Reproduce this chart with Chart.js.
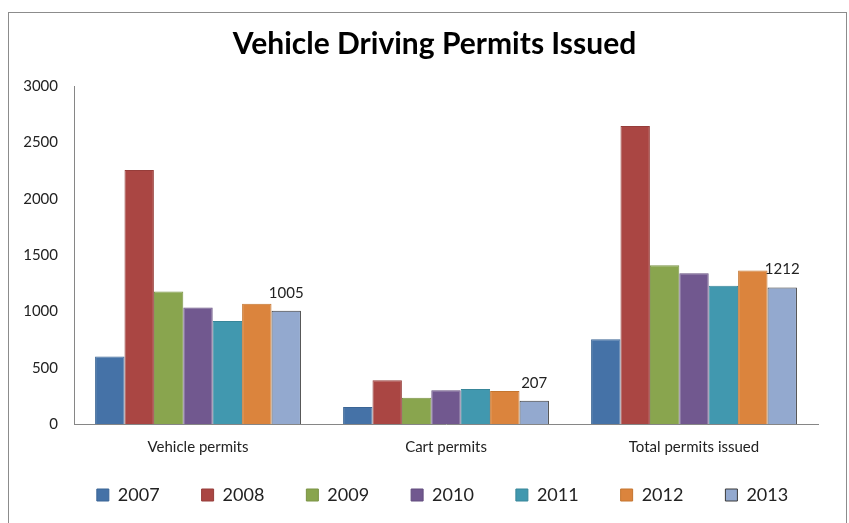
<!DOCTYPE html>
<html>
<head>
<meta charset="utf-8">
<script src="https://cdn.jsdelivr.net/npm/chart.js@4"></script>
<style>
  html, body { margin: 0; padding: 0; background: #fff; }
  #wrap { position: relative; width: 849px; height: 523px; overflow: hidden; }
  #frame { position: absolute; left: 8px; top: 12px; width: 839px; height: 530px; border: 1px solid #8c8c8c; box-sizing: border-box; }
  canvas { position: absolute; left: 0; top: 0; }
</style>
</head>
<body>
<div id="wrap">
  <div id="frame"></div>
  <canvas id="chart" width="849" height="523"></canvas>
</div>
<script>
// categories and series
const categories = ['Vehicle permits', 'Cart permits', 'Total permits issued'];
const years = ['2007', '2008', '2009', '2010', '2011', '2012', '2013'];
const v2007 = [600, 150, 752];
const v2008 = [2255, 388, 2645];
const v2009 = [1175, 232, 1410];
const v2010 = [1035, 300, 1338];
const v2011 = [915, 310, 1228];
const v2012 = [1068, 293, 1362];
const v2013 = [1005, 207, 1212];
const yTicks = [0, 500, 1000, 1500, 2000, 2500, 3000];

const series = [v2007, v2008, v2009, v2010, v2011, v2012, v2013];
const fills = ['#4572A7', '#AA4643', '#89A54E', '#71588F', '#4198AF', '#DB843D', '#93A9CF'];
const edges = ['#3b6595', '#963d3a', '#7a9345', '#634d7e', '#388699', '#c4752f', '#3a3a3a'];

const font = "Lato, 'Open Sans', sans-serif";

// write values over the 2013 bars only
const lastLabels = {
  id: 'lastLabels',
  afterDatasetsDraw(chart) {
    const ctx = chart.ctx;
    const meta = chart.getDatasetMeta(6);
    ctx.save();
    ctx.font = '15px ' + font;
    ctx.fillStyle = '#222';
    ctx.textAlign = 'center';
    ctx.textBaseline = 'alphabetic';
    meta.data.forEach((bar, i) => {
      ctx.fillText(String(v2013[i]), bar.x, bar.y - 13);
    });
    ctx.restore();
  }
};

// legend row spacing is wide, but the row itself sits closer to the axis
const legendNudge = {
  id: 'legendNudge',
  afterLayout(chart) {
    const lg = chart.legend;
    lg.top -= 16;
    lg.bottom -= 16;
    lg.left += 8;
    lg.right += 8;
  }
};

new Chart(document.getElementById('chart'), {
  type: 'bar',
  data: {
    labels: categories,
    datasets: years.map((y, i) => ({
      label: y,
      data: series[i],
      backgroundColor: fills[i],
      borderColor: edges[i],
      borderWidth: 1,
      borderSkipped: 'bottom',
      barPercentage: 1,
      categoryPercentage: 0.83
    }))
  },
  options: {
    responsive: false,
    animation: false,
    layout: { padding: { left: 20, right: 0, top: 0, bottom: -7 } },
    scales: {
      x: {
        grid: { display: false, drawTicks: false },
        border: { color: '#868686', width: 1 },
        ticks: { color: '#222', font: { family: font, size: 15 }, padding: 14 },
        afterFit(s) { s.height = 36; }
      },
      y: {
        min: 0,
        max: 3000,
        afterBuildTicks(s) { s.ticks = yTicks.map(v => ({ value: v })); },
        grid: { display: false, drawTicks: false },
        border: { color: '#868686', width: 1 },
        ticks: {
          color: '#222',
          font: { family: font, size: 15 },
          padding: 16,
          callback: v => String(v)
        },
        afterFit(s) { s.width = 54; }
      },
      // empty right-hand axis, only reserves the gap on the right
      yr: {
        position: 'right',
        display: true,
        grid: { display: false, drawTicks: false },
        border: { display: false },
        ticks: { display: false },
        afterFit(s) { s.width = 31; }
      }
    },
    plugins: {
      title: {
        display: true,
        text: 'Vehicle Driving Permits Issued',
        color: '#000',
        font: { family: font, size: 30, weight: 'bold' },
        padding: { top: 26, bottom: 24 }
      },
      legend: {
        position: 'bottom',
        labels: {
          color: '#222',
          font: { family: font, size: 18 },
          boxWidth: 12,
          boxHeight: 12,
          padding: 42
        }
      },
      tooltip: { enabled: false }
    }
  },
  plugins: [lastLabels, legendNudge]
});
</script>
</body>
</html>
